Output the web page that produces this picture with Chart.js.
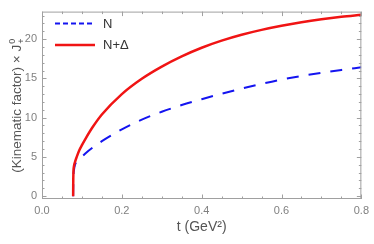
<!DOCTYPE html>
<html>
<head>
<meta charset="utf-8">
<script src="https://cdn.jsdelivr.net/npm/chart.js@4.4.1/dist/chart.umd.min.js"></script>
<style>
  html, body { margin: 0; padding: 0; background: #fff; }
  #wrap { width: 374px; height: 244px; position: relative; }
</style>
</head>
<body>
<div id="wrap"><canvas id="kinChart"></canvas></div>
<script>
// series labels
var seriesNames = ["N", "N+\u0394"];

// t values (GeV^2) and curve values
var tN = [0.078, 0.0785, 0.08, 0.09, 0.1, 0.11, 0.15, 0.2, 0.25, 0.3, 0.35, 0.4, 0.45, 0.5, 0.55, 0.6, 0.65, 0.7, 0.75, 0.8];
var vN = [0, 2.0, 3.3, 4.5, 5.0, 5.5, 7.0, 8.5, 9.75, 10.75, 11.6, 12.35, 13.05, 13.7, 14.3, 14.85, 15.3, 15.7, 16.07, 16.4];

var tND = [0.078, 0.0782, 0.0787, 0.08, 0.083, 0.087, 0.094, 0.1, 0.11, 0.127, 0.15, 0.2, 0.25, 0.3, 0.35, 0.4, 0.45, 0.5, 0.55, 0.6, 0.65, 0.7, 0.75, 0.8];
var vND = [0, 1.5, 3.0, 3.8, 4.4, 5.0, 5.9, 6.5, 7.4, 8.8, 10.4, 13.0, 14.95, 16.5, 17.8, 18.9, 19.8, 20.55, 21.17, 21.69, 22.14, 22.52, 22.84, 23.1];

// tick labels
var xTicks = [0, 0.2, 0.4, 0.6, 0.8];
var yTicks = [0, 5, 10, 15, 20];

var FONT = "'Liberation Sans', Arial, sans-serif";

function pairs(xs, ys) {
  return xs.map(function (x, i) { return { x: x, y: ys[i] }; });
}

// frame with inward ticks on all four sides (Mathematica style)
var framePlugin = {
  id: "frame",
  afterDraw: function (chart) {
    var ctx = chart.ctx, a = chart.chartArea;
    var xs = chart.scales.x, ys = chart.scales.y;
    ctx.save();
    ctx.strokeStyle = "#a0a0a0";
    ctx.lineWidth = 1;
    ctx.strokeRect(a.left + 0.5, a.top + 0.5, a.right - a.left - 1, a.bottom - a.top - 1);
    ctx.beginPath();
    for (var i = 0; i <= 16; i++) {
      var v = i * 0.05;
      var px = Math.round(xs.getPixelForValue(v)) + 0.5;
      var len = (i % 4 === 0) ? 4.5 : 2.5;
      ctx.moveTo(px, a.bottom); ctx.lineTo(px, a.bottom - len);
      ctx.moveTo(px, a.top); ctx.lineTo(px, a.top + len);
    }
    for (var j = 0; j <= 23; j++) {
      var py = Math.round(ys.getPixelForValue(j)) + 0.5;
      var l2 = (j % 5 === 0) ? 4.5 : 2.5;
      ctx.moveTo(a.left, py); ctx.lineTo(a.left + l2, py);
      ctx.moveTo(a.right, py); ctx.lineTo(a.right - l2, py);
    }
    ctx.stroke();

    // legend
    var ds = chart.data.datasets;
    var rows = [23.5, 45];
    ctx.font = "13px " + FONT;
    ctx.textBaseline = "middle";
    ds.forEach(function (d, k) {
      ctx.beginPath();
      ctx.strokeStyle = d.borderColor;
      ctx.lineWidth = d.borderWidth;
      ctx.setLineDash(k === 0 ? [5, 3] : []);
      ctx.moveTo(55, rows[k]); ctx.lineTo(95, rows[k]);
      ctx.stroke();
      ctx.setLineDash([]);
      ctx.fillStyle = "#333";
      ctx.fillText(d.label, 103, rows[k] + 0.5);
    });

    // y axis title with J^0_+
    ctx.translate(16, (a.top + a.bottom) / 2);
    ctx.rotate(-Math.PI / 2);
    ctx.fillStyle = "#555";
    var main = "(Kinematic factor) \u00d7 J";
    ctx.font = "13.5px " + FONT;
    var w = ctx.measureText(main).width;
    var total = w + 7;
    var x0 = -total / 2;
    ctx.textBaseline = "alphabetic";
    ctx.fillText(main, x0, 4.5);
    ctx.font = "9px " + FONT;
    ctx.fillText("0", x0 + w + 1, -1.5);
    ctx.fillText("+", x0 + w + 1, 8);
    ctx.restore();
  }
};

var ctx = document.getElementById("kinChart").getContext("2d");
var kinChart = new Chart(ctx, {
  type: "line",
  data: {
    datasets: [
      {
        label: seriesNames[0],
        data: pairs(tN, vN),
        borderColor: "#1414f0",
        borderWidth: 2,
        borderDash: [12, 10],
        pointRadius: 0,
        cubicInterpolationMode: "monotone",
        fill: false,
        order: 1
      },
      {
        label: seriesNames[1],
        data: pairs(tND, vND),
        borderColor: "#f01414",
        borderWidth: 2.5,
        pointRadius: 0,
        cubicInterpolationMode: "monotone",
        fill: false,
        order: 0
      }
    ]
  },
  options: {
    responsive: true,
    maintainAspectRatio: false,
    animation: false,
    layout: { padding: { left: 0, top: 1, right: 8.5, bottom: 0 } },
    plugins: { legend: { display: false }, tooltip: { enabled: false } },
    scales: {
      x: {
        type: "linear",
        min: 0,
        max: 0.8,
        afterFit: function (s) { s.height = 45; },
        afterBuildTicks: function (s) { s.ticks = xTicks.map(function (v) { return { value: v }; }); },
        grid: { display: false, drawTicks: false },
        border: { display: false },
        ticks: {
          padding: 5,
          color: "#808080",
          font: { family: FONT, size: 11 },
          callback: function (v) { return v.toFixed(1); }
        },
        title: {
          display: true,
          text: "t (GeV\u00b2)",
          color: "#555",
          font: { family: FONT, size: 14 },
          padding: { top: 0, bottom: 8 }
        }
      },
      y: {
        type: "linear",
        min: -0.36,
        max: 23.5,
        afterFit: function (s) { s.width = 42; },
        afterBuildTicks: function (s) { s.ticks = yTicks.map(function (v) { return { value: v }; }); },
        grid: { display: false, drawTicks: false },
        border: { display: false },
        ticks: {
          padding: 5,
          color: "#808080",
          font: { family: FONT, size: 11 },
          callback: function (v) { return String(v); }
        }
      }
    }
  },
  plugins: [framePlugin]
});
</script>
</body>
</html>
